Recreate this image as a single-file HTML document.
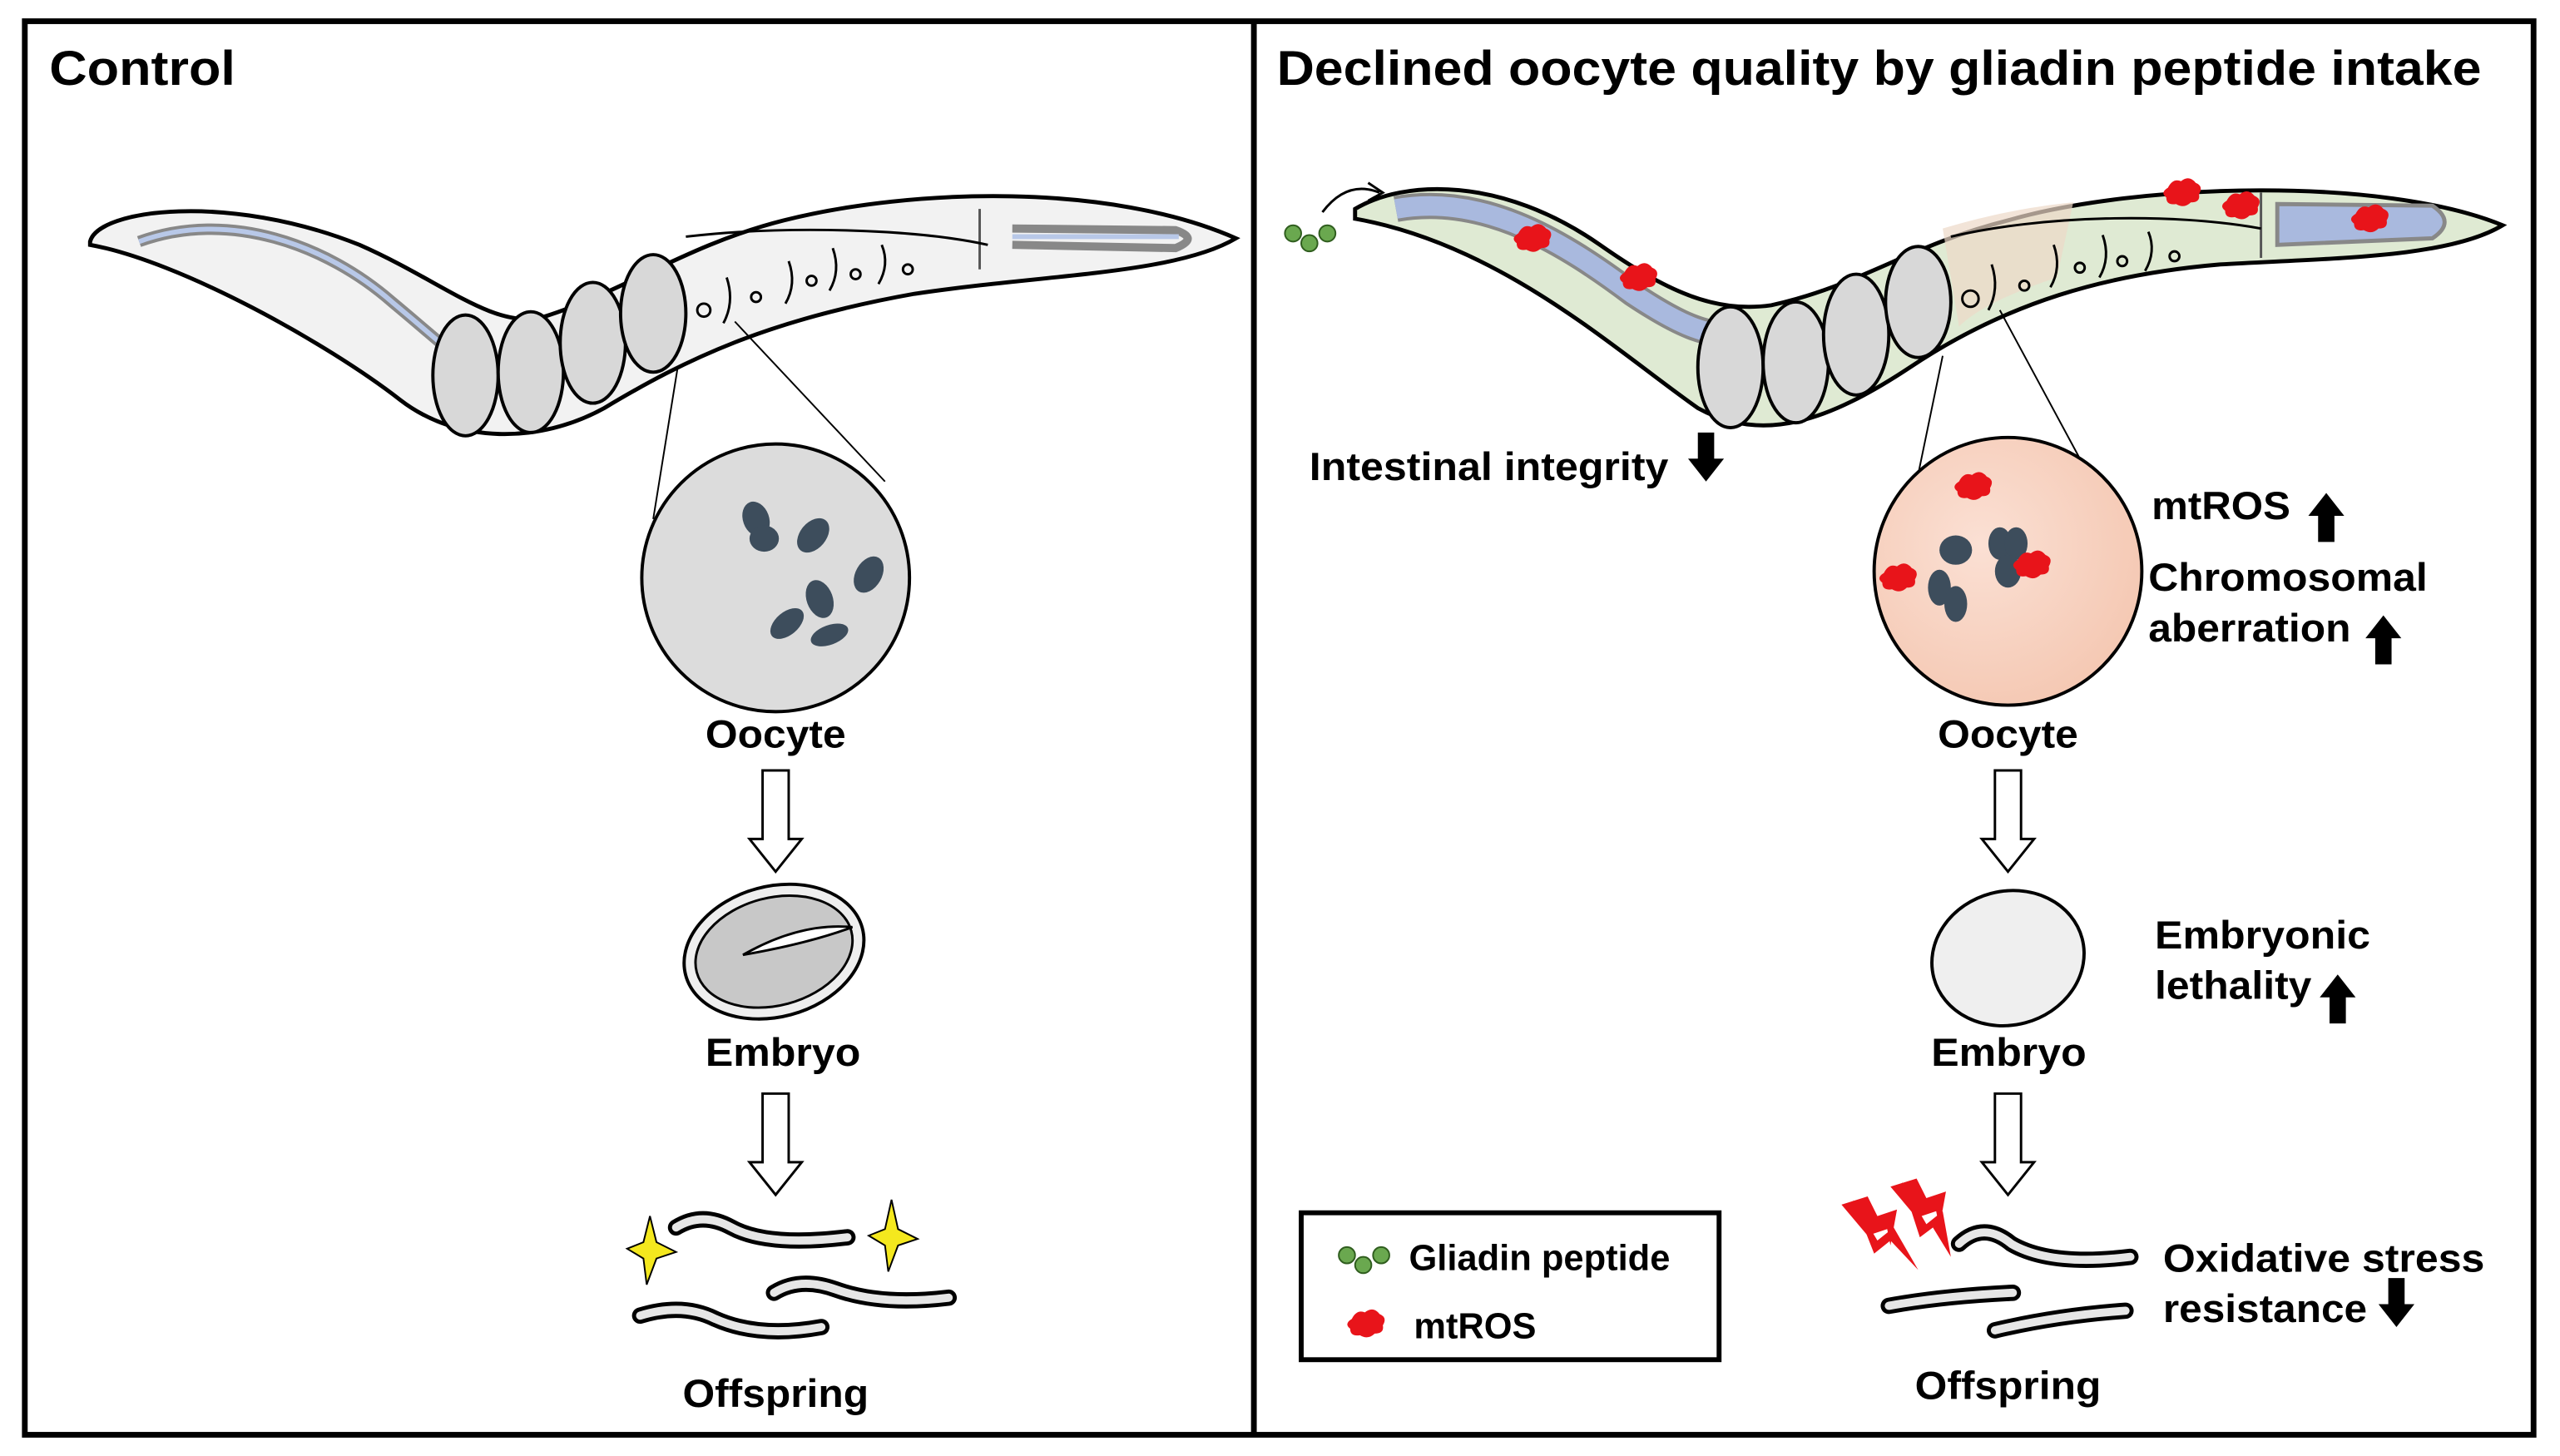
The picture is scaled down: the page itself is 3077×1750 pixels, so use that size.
<!DOCTYPE html>
<html><head><meta charset="utf-8"><style>
html,body{margin:0;padding:0;background:#fff;}
svg{display:block;}
text{font-family:"Liberation Sans",Arial,sans-serif;font-weight:bold;fill:#000;}
</style></head><body>
<svg width="3077" height="1750" viewBox="0 0 1568 892" xmlns="http://www.w3.org/2000/svg">
<defs>
<radialGradient id="pe" cx="0.4" cy="0.4" r="0.7"><stop offset="0" stop-color="#fbe0d4"/><stop offset="1" stop-color="#f4c6b0"/></radialGradient>
<g id="harrow"><path d="M-8,0 H8 V42 H16 L0,62 L-16,42 H-8 Z" fill="#fff" stroke="#000" stroke-width="1.5"/></g>
<g id="up"><path d="M-5,22 V6 H-11 L0,-8 L11,6 H5 V22 Z" fill="#000"/></g>
<g id="down"><path d="M-5,-22 V-6 H-11 L0,8 L11,-6 H5 V-22 Z" fill="#000"/></g>
<g id="ros"><path d="M-8,-4 q3,-6 8,-4 q5,-4 9,1 q5,2 2,7 q1,5 -5,5 q-4,4 -9,1 q-6,1 -6,-4 q-4,-3 1,-6z" fill="#e8141a"/></g>
</defs>
<rect x="0" y="0" width="1568" height="892" fill="#fff"/>
<rect x="15" y="13" width="1537" height="866" fill="none" stroke="#000" stroke-width="3.5"/>
<line x1="768" y1="13" x2="768" y2="879" stroke="#000" stroke-width="3.5"/>
<text x="30" y="52" font-size="30" textLength="114" lengthAdjust="spacingAndGlyphs">Control</text>
<text x="782" y="52" font-size="30" textLength="738" lengthAdjust="spacingAndGlyphs">Declined oocyte quality by gliadin peptide intake</text>

<!-- LEFT WORM -->
<path d="M55,148 C60,128 140,118 220,150 C270,172 300,200 330,195 C380,180 420,150 480,135 C560,115 680,112 757,146 C720,168 640,168 560,180 C470,196 420,220 370,250 C330,272 280,272 245,245 C200,210 110,160 55,150 Z" fill="#f2f2f2" stroke="#000" stroke-width="2.5"/>
<path d="M85,148 C140,128 200,150 240,185 C270,210 280,220 290,225" fill="none" stroke="#888" stroke-width="7"/>
<path d="M85,148 C140,128 200,150 240,185 C270,210 280,220 290,225" fill="none" stroke="#b8c8e8" stroke-width="3"/>
<path d="M600,128 L600,165" stroke="#555" stroke-width="1.5"/>
<path d="M620,140 L720,141 Q735,146 720,152 L620,150" fill="none" stroke="#888" stroke-width="5"/>
<path d="M620,145 L722,145" stroke="#b8c8e8" stroke-width="3"/>
<path d="M420,145 C480,138 560,140 605,150" fill="none" stroke="#000" stroke-width="1.5"/>
<g fill="#d8d8d8" stroke="#000" stroke-width="2">
<ellipse cx="285" cy="230" rx="20" ry="37"/><ellipse cx="325" cy="228" rx="20" ry="37"/><ellipse cx="363" cy="210" rx="20" ry="37"/><ellipse cx="400" cy="192" rx="20" ry="36"/>
</g>
<g fill="none" stroke="#000" stroke-width="1.5">
<circle cx="431" cy="190" r="4"/><circle cx="463" cy="182" r="3"/><circle cx="497" cy="172" r="3"/><circle cx="524" cy="168" r="3"/><circle cx="556" cy="165" r="3"/>
<path d="M445,170 q5,15 -2,28"/><path d="M483,160 q5,14 -2,26"/><path d="M510,152 q5,14 -2,26"/><path d="M540,150 q5,12 -2,24"/>
</g>
<line x1="415" y1="225" x2="400" y2="318" stroke="#000" stroke-width="1"/>
<line x1="450" y1="197" x2="542" y2="295" stroke="#000" stroke-width="1"/>
<circle cx="475" cy="354" r="82" fill="#dcdcdc" stroke="#000" stroke-width="2"/>
<g fill="#3d4d5c">
<ellipse cx="463" cy="318" rx="8" ry="11" transform="rotate(-20 463 318)"/><ellipse cx="468" cy="330" rx="9" ry="8"/>
<ellipse cx="498" cy="328" rx="8" ry="12" transform="rotate(40 498 328)"/>
<ellipse cx="532" cy="352" rx="8" ry="12" transform="rotate(30 532 352)"/>
<ellipse cx="502" cy="367" rx="8" ry="12" transform="rotate(-20 502 367)"/>
<ellipse cx="482" cy="382" rx="7" ry="12" transform="rotate(50 482 382)"/>
<ellipse cx="508" cy="389" rx="6" ry="12" transform="rotate(70 508 389)"/>
</g>
<text x="432" y="458" font-size="24" textLength="86" lengthAdjust="spacingAndGlyphs">Oocyte</text>
<use href="#harrow" x="475" y="472"/>
<ellipse cx="474" cy="583" rx="56" ry="40" transform="rotate(-15 474 583)" fill="#eee" stroke="#000" stroke-width="2"/>
<ellipse cx="474" cy="583" rx="49" ry="33" transform="rotate(-15 474 583)" fill="#c8c8c8" stroke="#000" stroke-width="1.5"/>
<path d="M455,585 Q490,565 522,568 Q495,578 455,585Z" fill="#fff" stroke="#000" stroke-width="1.5"/>
<text x="432" y="653" font-size="24" textLength="95" lengthAdjust="spacingAndGlyphs">Embryo</text>
<use href="#harrow" x="475" y="670"/>
<g fill="none" stroke-linecap="round">
<g stroke="#000" stroke-width="10">
<path d="M414,752 Q430,742 448,752 Q470,764 519,758"/>
<path d="M474,792 Q490,782 512,790 Q540,800 581,795"/>
<path d="M392,806 Q418,798 438,808 Q465,820 503,813"/>
</g>
<g stroke="#e6e6e6" stroke-width="5">
<path d="M414,752 Q430,742 448,752 Q470,764 519,758"/>
<path d="M474,792 Q490,782 512,790 Q540,800 581,795"/>
<path d="M392,806 Q418,798 438,808 Q465,820 503,813"/>
</g>
</g>
<path d="M398,745 l4,16 l12,6 l-12,4 l-6,16 l-2,-16 l-10,-6 l10,-4z" fill="#f4e81e" stroke="#000" stroke-width="1"/>
<path d="M546,735 l4,18 l12,6 l-12,4 l-6,16 l-2,-16 l-10,-6 l10,-4z" fill="#f4e81e" stroke="#000" stroke-width="1"/>
<text x="418" y="862" font-size="24" textLength="114" lengthAdjust="spacingAndGlyphs">Offspring</text>

<!-- RIGHT WORM -->
<path d="M830,128 C860,110 920,108 980,150 C1020,178 1050,192 1085,187 C1140,175 1170,150 1230,135 C1310,112 1460,108 1533,138 C1500,158 1430,158 1360,162 C1290,168 1230,185 1170,225 C1120,258 1080,272 1040,250 C990,215 920,150 830,134 Z" fill="#dfead3" stroke="#000" stroke-width="2.5"/>
<path d="M1190,140 C1230,128 1260,125 1270,124 L1260,170 C1230,180 1210,190 1200,200 Z" fill="#ecd9c8" opacity="0.7"/>
<path d="M855,128 C910,118 960,150 1000,180 C1030,200 1045,205 1060,205" fill="none" stroke="#888" stroke-width="16"/>
<path d="M855,128 C910,118 960,150 1000,180 C1030,200 1045,205 1060,205" fill="none" stroke="#a9b9de" stroke-width="12"/>
<path d="M1395,125 L1490,126 Q1505,136 1490,146 L1395,150 Z" fill="#a9b9de" stroke="#888" stroke-width="2.5"/>
<path d="M1385,118 L1385,158" stroke="#555" stroke-width="1.5"/>
<path d="M1195,145 C1250,132 1330,130 1385,140" fill="none" stroke="#000" stroke-width="1.5"/>
<g fill="#d8d8d8" stroke="#000" stroke-width="2">
<ellipse cx="1060" cy="225" rx="20" ry="37"/><ellipse cx="1100" cy="222" rx="20" ry="37"/><ellipse cx="1137" cy="205" rx="20" ry="37"/><ellipse cx="1175" cy="185" rx="20" ry="34"/>
</g>
<g fill="none" stroke="#000" stroke-width="1.5">
<circle cx="1207" cy="183" r="5"/><circle cx="1240" cy="175" r="3"/><circle cx="1274" cy="164" r="3"/><circle cx="1300" cy="160" r="3"/><circle cx="1332" cy="157" r="3"/>
<path d="M1220,162 q5,15 -2,28"/><path d="M1258,150 q5,14 -2,26"/><path d="M1288,144 q5,14 -2,26"/><path d="M1316,142 q5,12 -2,24"/>
</g>
<use href="#ros" x="938" y="147"/><use href="#ros" x="1003" y="171"/><use href="#ros" x="1336" y="119"/><use href="#ros" x="1372" y="127"/><use href="#ros" x="1451" y="135"/>
<g fill="#6aa84f" stroke="#2f5d1e" stroke-width="1"><circle cx="792" cy="143" r="5"/><circle cx="802" cy="149" r="5"/><circle cx="813" cy="143" r="5"/></g>
<path d="M810,130 Q825,110 845,118" fill="none" stroke="#000" stroke-width="1.5"/>
<path d="M838,112 L847,118 L838,123" fill="none" stroke="#000" stroke-width="1.5"/>
<text x="802" y="294" font-size="24" textLength="220" lengthAdjust="spacingAndGlyphs">Intestinal integrity</text>
<use href="#down" x="1045" y="287"/>
<line x1="1190" y1="218" x2="1172" y2="305" stroke="#000" stroke-width="1"/>
<line x1="1225" y1="190" x2="1287" y2="305" stroke="#000" stroke-width="1"/>
<circle cx="1230" cy="350" r="82" fill="url(#pe)" stroke="#000" stroke-width="2"/>
<g fill="#3d4d5c">
<ellipse cx="1198" cy="337" rx="10" ry="9"/>
<ellipse cx="1225" cy="333" rx="7" ry="10"/><ellipse cx="1235" cy="333" rx="7" ry="10"/><ellipse cx="1230" cy="350" rx="8" ry="10"/>
<ellipse cx="1188" cy="360" rx="7" ry="11"/><ellipse cx="1198" cy="370" rx="7" ry="11"/>
</g>
<use href="#ros" x="1208" y="299"/><use href="#ros" x="1162" y="355"/><use href="#ros" x="1244" y="347"/>
<text x="1318" y="318" font-size="24" textLength="85" lengthAdjust="spacingAndGlyphs">mtROS</text>
<use href="#up" x="1425" y="310"/>
<text x="1316" y="362" font-size="24" textLength="171" lengthAdjust="spacingAndGlyphs">Chromosomal</text>
<text x="1316" y="393" font-size="24" textLength="124" lengthAdjust="spacingAndGlyphs">aberration</text>
<use href="#up" x="1460" y="385"/>
<text x="1187" y="458" font-size="24" textLength="86" lengthAdjust="spacingAndGlyphs">Oocyte</text>
<use href="#harrow" x="1230" y="472"/>
<ellipse cx="1230" cy="587" rx="47" ry="41" transform="rotate(-15 1230 587)" fill="#efefef" stroke="#000" stroke-width="2"/>
<text x="1320" y="581" font-size="24" textLength="132" lengthAdjust="spacingAndGlyphs">Embryonic</text>
<text x="1320" y="612" font-size="24" textLength="96" lengthAdjust="spacingAndGlyphs">lethality</text>
<use href="#up" x="1432" y="605"/>
<text x="1183" y="653" font-size="24" textLength="95" lengthAdjust="spacingAndGlyphs">Embryo</text>
<use href="#harrow" x="1230" y="670"/>
<path d="M1135,735 L1150,760 L1160,752 L1175,778 L1158,760 L1148,768 Z" fill="#e8141a"/>
<path d="M1165,724 L1180,750 L1190,742 L1195,770 L1184,752 L1176,758 Z" fill="#e8141a"/>
<path d="M1128,738 l16,-5 l6,12 l12,-4 l-4,22 l-2,-10 l-12,4 z" fill="#e8141a"/>
<path d="M1158,727 l16,-5 l6,12 l12,-4 l-4,22 l-2,-10 l-12,4 z" fill="#e8141a"/>
<g fill="none" stroke-linecap="round">
<g stroke="#000" stroke-width="10">
<path d="M1200,762 Q1215,748 1232,762 Q1256,776 1305,770"/>
<path d="M1157,800 Q1190,794 1233,792"/>
<path d="M1222,815 Q1260,806 1302,803"/>
</g>
<g stroke="#e6e6e6" stroke-width="5">
<path d="M1200,762 Q1215,748 1232,762 Q1256,776 1305,770"/>
<path d="M1157,800 Q1190,794 1233,792"/>
<path d="M1222,815 Q1260,806 1302,803"/>
</g>
</g>
<text x="1173" y="857" font-size="24" textLength="114" lengthAdjust="spacingAndGlyphs">Offspring</text>
<text x="1325" y="779" font-size="24" textLength="197" lengthAdjust="spacingAndGlyphs">Oxidative stress</text>
<text x="1325" y="810" font-size="24" textLength="125" lengthAdjust="spacingAndGlyphs">resistance</text>
<use href="#down" x="1468" y="805"/>
<rect x="797" y="743" width="256" height="90" fill="#fff" stroke="#000" stroke-width="3"/>
<g fill="#6aa84f" stroke="#2f5d1e" stroke-width="1"><circle cx="825" cy="769" r="5"/><circle cx="835" cy="775" r="5"/><circle cx="846" cy="769" r="5"/></g>
<text x="863" y="778" font-size="22" textLength="160" lengthAdjust="spacingAndGlyphs">Gliadin peptide</text>
<use href="#ros" x="836" y="812"/>
<text x="866" y="820" font-size="22" textLength="75" lengthAdjust="spacingAndGlyphs">mtROS</text>
</svg>
</body></html>
